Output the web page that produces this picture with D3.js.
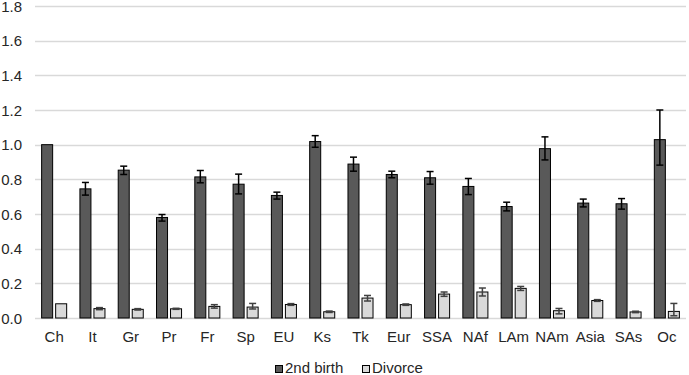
<!DOCTYPE html>
<html>
<head>
<meta charset="utf-8">
<script src="https://cdn.jsdelivr.net/npm/d3@7"></script>
<style>
  body { margin: 0; background: #fff; }
  svg { font-family: "Liberation Sans", Arial, sans-serif; }
</style>
</head>
<body>
<div id="chart"></div>
<script>
var categories = ["Ch", "It", "Gr", "Pr", "Fr", "Sp", "EU", "Ks", "Tk", "Eur", "SSA", "NAf", "LAm", "NAm", "Asia", "SAs", "Oc"];
var seriesNames = ["2nd birth", "Divorce"];

var birthValues = [1.0, 0.745, 0.853, 0.58, 0.814, 0.772, 0.707, 1.018, 0.888, 0.828, 0.809, 0.759, 0.643, 0.977, 0.663, 0.659, 1.029];
var birthLow    = [1.0, 0.709, 0.828, 0.559, 0.78, 0.716, 0.686, 0.985, 0.847, 0.809, 0.772, 0.712, 0.618, 0.912, 0.641, 0.628, 0.882];
var birthHigh   = [1.0, 0.782, 0.876, 0.597, 0.851, 0.83, 0.726, 1.052, 0.928, 0.847, 0.845, 0.805, 0.668, 1.045, 0.686, 0.689, 1.2];

var divorceValues = [0.082, 0.054, 0.05, 0.053, 0.067, 0.063, 0.078, 0.036, 0.115, 0.077, 0.138, 0.15, 0.171, 0.042, 0.101, 0.035, 0.038];
var divorceLow    = [0.082, 0.048, 0.046, 0.05, 0.057, 0.052, 0.073, 0.032, 0.098, 0.073, 0.125, 0.127, 0.159, 0.024, 0.096, 0.031, 0.013];
var divorceHigh   = [0.082, 0.06, 0.054, 0.056, 0.077, 0.084, 0.083, 0.04, 0.13, 0.081, 0.15, 0.173, 0.182, 0.055, 0.106, 0.039, 0.084];

var yTicks = [0, 0.2, 0.4, 0.6, 0.8, 1.0, 1.2, 1.4, 1.6, 1.8];

var width = 689, height = 375;
var fills = ["#595959", "#d9d9d9"];
var errColors = ["#000", "#404040"];
var textColor = "#262626";
var fontSize = 15;

var svg = d3.select("#chart").append("svg")
    .attr("width", width)
    .attr("height", height);

var x0 = d3.scaleBand()
    .domain(categories)
    .range([35, 686])
    .paddingInner(0.32)
    .paddingOuter(0.16);

var x1 = d3.scaleBand()
    .domain(seriesNames)
    .range([0, x0.bandwidth()])
    .paddingInner(1 / 7);

var y = d3.scaleLinear()
    .domain([0, 1.8])
    .range([318, 6]);

// gridlines
svg.append("g").selectAll("line")
    .data(yTicks)
    .enter().append("line")
    .attr("x1", 35)
    .attr("x2", 686)
    .attr("y1", function(d) { return Math.round(y(d)) + 0.5; })
    .attr("y2", function(d) { return Math.round(y(d)) + 0.5; })
    .attr("stroke", "#d9d9d9")
    .attr("stroke-width", 1.3);

// y labels
svg.append("g").selectAll("text")
    .data(yTicks)
    .enter().append("text")
    .attr("x", 22)
    .attr("y", function(d) { return y(d) + 5.5; })
    .attr("text-anchor", "end")
    .attr("font-size", fontSize)
    .attr("fill", textColor)
    .text(function(d) { return d3.format(".1f")(d); });

var rows = categories.map(function(c, i) {
    return {
        cat: c,
        bars: [
            { s: seriesNames[0], v: birthValues[i], lo: birthLow[i], hi: birthHigh[i], k: 0 },
            { s: seriesNames[1], v: divorceValues[i], lo: divorceLow[i], hi: divorceHigh[i], k: 1 }
        ]
    };
});

var group = svg.append("g").selectAll("g")
    .data(rows)
    .enter().append("g")
    .attr("transform", function(d) { return "translate(" + x0(d.cat) + ",0)"; });

var bar = group.selectAll("g")
    .data(function(d) { return d.bars; })
    .enter().append("g");

bar.append("rect")
    .attr("x", function(d) { return x1(d.s) + 0.5; })
    .attr("y", function(d) { return y(d.v); })
    .attr("width", x1.bandwidth() - 1)
    .attr("height", function(d) { return y(0) - y(d.v); })
    .attr("fill", function(d) { return fills[d.k]; })
    .attr("stroke", "#000")
    .attr("stroke-width", 1);

// error bars
var err = bar.filter(function(d) { return d.hi > d.lo; }).append("g")
    .attr("stroke", function(d) { return errColors[d.k]; })
    .attr("stroke-width", 1.5);

err.append("line")
    .attr("x1", function(d) { return x1(d.s) + x1.bandwidth() / 2; })
    .attr("x2", function(d) { return x1(d.s) + x1.bandwidth() / 2; })
    .attr("y1", function(d) { return y(d.lo); })
    .attr("y2", function(d) { return y(d.hi); });

err.selectAll(".cap")
    .data(function(d) { return [{ d: d, v: d.lo }, { d: d, v: d.hi }]; })
    .enter().append("line")
    .attr("class", "cap")
    .attr("x1", function(e) { return x1(e.d.s) + x1.bandwidth() / 2 - 3.5; })
    .attr("x2", function(e) { return x1(e.d.s) + x1.bandwidth() / 2 + 3.5; })
    .attr("y1", function(e) { return y(e.v); })
    .attr("y2", function(e) { return y(e.v); });

// x labels
svg.append("g").selectAll("text")
    .data(categories)
    .enter().append("text")
    .attr("x", function(d) { return x0(d) + x0.bandwidth() / 2; })
    .attr("y", 342)
    .attr("text-anchor", "middle")
    .attr("font-size", fontSize)
    .attr("fill", textColor)
    .text(function(d) { return d; });

// legend
var legendX = [275, 362];
var legend = svg.append("g").selectAll("g")
    .data(seriesNames)
    .enter().append("g")
    .attr("transform", function(d, i) { return "translate(" + legendX[i] + ",365)"; });

legend.append("rect")
    .attr("x", 0.5)
    .attr("y", 0.5)
    .attr("width", 7)
    .attr("height", 7)
    .attr("fill", function(d, i) { return fills[i]; })
    .attr("stroke", "#000")
    .attr("stroke-width", 1);

legend.append("text")
    .attr("x", 10)
    .attr("y", 8)
    .attr("font-size", fontSize)
    .attr("fill", textColor)
    .text(function(d) { return d; });
</script>
</body>
</html>
